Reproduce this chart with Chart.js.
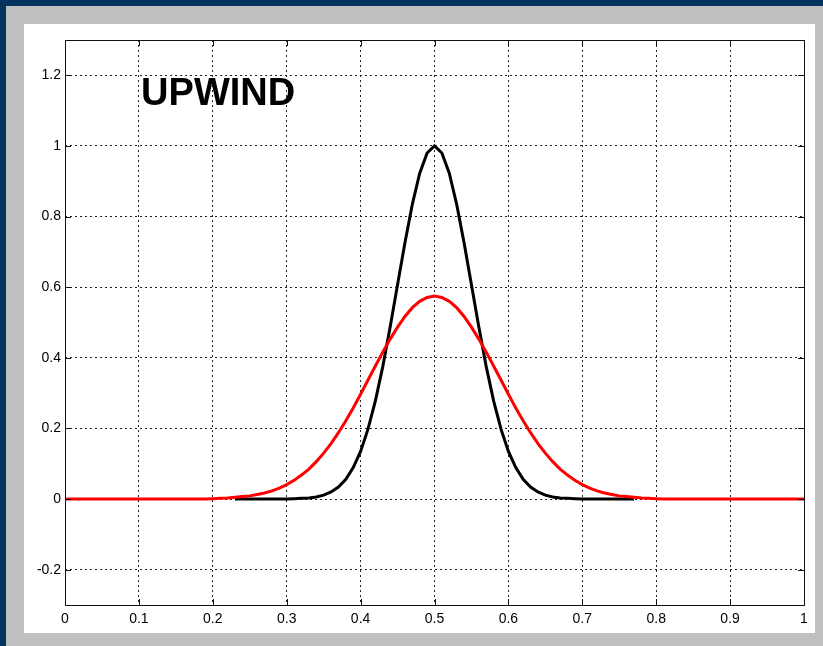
<!DOCTYPE html>
<html>
<head>
<meta charset="utf-8">
<script src="https://cdn.jsdelivr.net/npm/chart.js@4/dist/chart.umd.min.js"></script>
<style>
  html, body { margin: 0; padding: 0; background: #05335f; }
  #wrap { width: 823px; height: 646px; position: relative; }
</style>
</head>
<body>
<div id="wrap"><canvas id="chart"></canvas></div>
<script>
// grid of x positions (0 .. 1, step 0.01)
const xValues = [
  0.00, 0.01, 0.02, 0.03, 0.04, 0.05, 0.06, 0.07, 0.08, 0.09,
  0.10, 0.11, 0.12, 0.13, 0.14, 0.15, 0.16, 0.17, 0.18, 0.19,
  0.20, 0.21, 0.22, 0.23, 0.24, 0.25, 0.26, 0.27, 0.28, 0.29,
  0.30, 0.31, 0.32, 0.33, 0.34, 0.35, 0.36, 0.37, 0.38, 0.39,
  0.40, 0.41, 0.42, 0.43, 0.44, 0.45, 0.46, 0.47, 0.48, 0.49,
  0.50, 0.51, 0.52, 0.53, 0.54, 0.55, 0.56, 0.57, 0.58, 0.59,
  0.60, 0.61, 0.62, 0.63, 0.64, 0.65, 0.66, 0.67, 0.68, 0.69,
  0.70, 0.71, 0.72, 0.73, 0.74, 0.75, 0.76, 0.77, 0.78, 0.79,
  0.80, 0.81, 0.82, 0.83, 0.84, 0.85, 0.86, 0.87, 0.88, 0.89,
  0.90, 0.91, 0.92, 0.93, 0.94, 0.95, 0.96, 0.97, 0.98, 0.99,
  1.00,
];

// upwind solution (red)
const upwind = [
  0, 0, 0, 0, 0, 0, 0, 0, 0, 0,
  0, 0, 0, 0, 0, 0, 0, 0, 0, 0,
  0.001, 0.002, 0.003, 0.005, 0.007, 0.009, 0.013, 0.017, 0.023, 0.031,
  0.041, 0.053, 0.068, 0.085, 0.106, 0.130, 0.157, 0.188, 0.222, 0.258,
  0.297, 0.337, 0.377, 0.416, 0.453, 0.487, 0.517, 0.542, 0.560, 0.571,
  0.575, 0.571, 0.560, 0.542, 0.517, 0.487, 0.453, 0.416, 0.377, 0.337,
  0.297, 0.258, 0.222, 0.188, 0.157, 0.130, 0.106, 0.085, 0.068, 0.053,
  0.041, 0.031, 0.023, 0.017, 0.013, 0.009, 0.007, 0.005, 0.003, 0.002,
  0.001, 0, 0, 0, 0, 0, 0, 0, 0, 0,
  0, 0, 0, 0, 0, 0, 0, 0, 0, 0,
  0,
];

// exact solution (black), only drawn between 0.23 and 0.77
const exact = [
  null, null, null, null, null, null, null, null, null, null,
  null, null, null, null, null, null, null, null, null, null,
  null, null, null, 0, 0, 0, 0, 0, 0, 0,
  0, 0.001, 0.002, 0.003, 0.006, 0.011, 0.020, 0.034, 0.056, 0.089,
  0.135, 0.198, 0.278, 0.375, 0.487, 0.607, 0.726, 0.835, 0.923, 0.980,
  1.000, 0.980, 0.923, 0.835, 0.726, 0.607, 0.487, 0.375, 0.278, 0.198,
  0.135, 0.089, 0.056, 0.034, 0.020, 0.011, 0.006, 0.003, 0.002, 0.001,
  0, 0, 0, 0, 0, 0, 0, 0, null, null,
  null, null, null, null, null, null, null, null, null, null,
  null, null, null, null, null, null, null, null, null, null,
  null,
];

const xTicks = [0, 0.1, 0.2, 0.3, 0.4, 0.5, 0.6, 0.7, 0.8, 0.9, 1];
const xTickLabels = ['0', '0.1', '0.2', '0.3', '0.4', '0.5', '0.6', '0.7', '0.8', '0.9', '1'];
const yTicks = [-0.2, 0, 0.2, 0.4, 0.6, 0.8, 1, 1.2];
const yTickLabels = ['-0.2', '0', '0.2', '0.4', '0.6', '0.8', '1', '1.2'];

const plotTitle = 'UPWIND';
const titleAt = { x: 0.103, y: 1.116 };

const FONT = "'Liberation Sans', Arial, sans-serif";

const toPoints = (ys) => xValues.map((x, i) => ({ x, y: ys[i] }));

// grey frame, white panel
const framePlugin = {
  id: 'frame',
  beforeDraw(chart) {
    const { ctx, width, height } = chart;
    ctx.save();
    ctx.fillStyle = '#05335f';
    ctx.fillRect(0, 0, width, height);
    ctx.fillStyle = '#c0c0c0';
    ctx.fillRect(6, 6, width - 6, height - 6);
    ctx.fillStyle = '#ffffff';
    ctx.fillRect(24, 24, 791, 609);
    ctx.restore();
  },
};

// axis box with inward ticks, and the text label
const boxPlugin = {
  id: 'box',
  afterDraw(chart) {
    const { ctx, chartArea } = chart;
    const { left, right, top, bottom } = chartArea;
    const xs = chart.scales.x;
    const ys = chart.scales.y;
    const tick = 6;

    ctx.save();
    ctx.strokeStyle = '#111';
    ctx.lineWidth = 1;
    ctx.beginPath();
    xTicks.forEach((v) => {
      const px = Math.round(xs.getPixelForValue(v)) + 0.5;
      ctx.moveTo(px, bottom);
      ctx.lineTo(px, bottom - tick);
      ctx.moveTo(px, top);
      ctx.lineTo(px, top + tick);
    });
    yTicks.forEach((v) => {
      const py = Math.round(ys.getPixelForValue(v)) + 0.5;
      ctx.moveTo(left, py);
      ctx.lineTo(left + tick, py);
      ctx.moveTo(right, py);
      ctx.lineTo(right - tick, py);
    });
    ctx.stroke();
    ctx.strokeRect(Math.round(left) + 0.5, Math.round(top) + 0.5,
      Math.round(right - left), Math.round(bottom - top));

    ctx.fillStyle = '#000';
    ctx.font = `bold 38px ${FONT}`;
    ctx.textBaseline = 'alphabetic';
    ctx.textAlign = 'left';
    ctx.fillText(plotTitle, xs.getPixelForValue(titleAt.x), ys.getPixelForValue(titleAt.y));
    ctx.restore();
  },
};

const gridStyle = {
  color: '#222',
  lineWidth: 1,
  drawTicks: false,
};

const chart = new Chart(document.getElementById('chart'), {
  type: 'line',
  data: {
    datasets: [
      {
        label: 'upwind',
        data: toPoints(upwind),
        borderColor: '#ff0000',
        borderWidth: 3,
        pointRadius: 0,
        tension: 0,
      },
      {
        label: 'exact',
        data: toPoints(exact),
        borderColor: '#000000',
        borderWidth: 3,
        pointRadius: 0,
        tension: 0,
        spanGaps: false,
      },
    ],
  },
  options: {
    responsive: true,
    maintainAspectRatio: false,
    animation: false,
    layout: { padding: { left: 0, top: 40, right: 19, bottom: 0 } },
    plugins: {
      legend: { display: false },
      tooltip: { enabled: false },
    },
    scales: {
      x: {
        type: 'linear',
        min: 0,
        max: 1,
        grid: gridStyle,
        border: { display: false, dash: [2, 3] },
        afterBuildTicks(scale) {
          scale.ticks = xTicks.map((value) => ({ value }));
        },
        afterFit(scale) {
          scale.height = 41;
        },
        ticks: {
          padding: 6,
          color: '#000',
          font: { family: FONT, size: 14 },
          maxRotation: 0,
          autoSkip: false,
          callback: (v, i) => xTickLabels[i],
        },
      },
      y: {
        min: -0.3,
        max: 1.3,
        grid: gridStyle,
        border: { display: false, dash: [2, 3] },
        afterBuildTicks(scale) {
          scale.ticks = yTicks.map((value) => ({ value }));
        },
        afterFit(scale) {
          scale.width = 65;
        },
        ticks: {
          padding: 4,
          color: '#000',
          font: { family: FONT, size: 14 },
          autoSkip: false,
          callback: (v, i) => yTickLabels[i],
        },
      },
    },
  },
  plugins: [framePlugin, boxPlugin],
});
</script>
</body>
</html>
